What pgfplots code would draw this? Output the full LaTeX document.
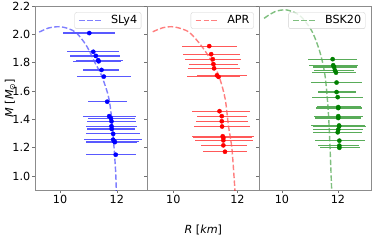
\documentclass[border=0pt]{standalone}
\usepackage{pgfplots}
\pgfplotsset{compat=1.18}
\usepackage{pgfplotstable}
\usepackage{fontspec}
\setmainfont{DejaVu Sans}
\definecolor{mblue}{RGB}{0,0,255}
\definecolor{mred}{RGB}{255,0,0}
\definecolor{mgreen}{RGB}{0,128,0}

\pgfplotstableread{
R M lo hi
11.03 2.009 10.12 11.93
11.17 1.877 10.23 12.08
11.26 1.848 10.35 12.11
11.34 1.818 10.56 12.20
11.36 1.810 10.45 12.15
11.46 1.749 10.82 12.08
11.54 1.702 10.61 12.48
11.66 1.525 10.99 12.34
11.73 1.423 10.80 12.69
11.79 1.409 10.99 12.63
11.81 1.387 10.96 12.67
11.81 1.352 10.91 12.71
11.82 1.333 10.96 12.63
11.87 1.298 10.91 12.83
11.87 1.257 10.84 12.90
11.91 1.245 10.99 12.78
11.93 1.240 10.91 12.71
11.96 1.151 10.91 12.69
}\slydata

\pgfplotstableread{
R M lo hi
11.12 1.917 10.26 11.98
11.18 1.860 10.31 12.08
11.23 1.825 10.37 12.11
11.25 1.790 10.50 12.03
11.27 1.760 10.47 12.08
11.36 1.711 10.73 12.29
11.41 1.700 10.42 12.08
11.44 1.458 10.57 12.40
11.51 1.423 10.73 12.31
11.51 1.387 10.71 12.34
11.52 1.350 10.65 12.40
11.54 1.281 10.57 12.50
11.56 1.270 10.61 12.45
11.56 1.252 10.68 12.48
11.56 1.217 10.86 12.29
11.61 1.172 10.92 12.31
}\aprdata

\pgfplotstableread{
R M lo hi
11.81 1.825 10.94 12.69
11.83 1.782 10.98 12.73
11.86 1.770 11.12 12.67
11.89 1.747 11.14 12.57
11.93 1.730 11.06 12.64
11.95 1.660 11.04 12.85
11.95 1.593 11.30 12.64
11.99 1.557 11.08 12.90
12.01 1.487 11.24 12.81
12.01 1.480 11.21 12.85
12.01 1.423 11.14 12.88
12.01 1.410 11.18 12.81
12.04 1.357 11.02 12.96
12.04 1.350 11.12 12.99
12.01 1.328 11.10 12.88
11.99 1.309 11.12 12.85
12.05 1.250 11.18 12.96
12.05 1.215 11.30 12.75
12.05 1.200 11.36 12.79
}\bskdata

\pgfplotsset{
  panel/.style={
    scale only axis, width=112pt, height=184.3pt, anchor=south west,
    ymin=0.9, ymax=2.2,
    ytick={1.0,1.2,...,2.2},
    xtick={10,12},
    xtick pos=bottom, ytick pos=left,
    tick align=outside,
    major tick length=3pt,
    tick style={black!55, line width=0.6pt},
    axis line style={black!45, line width=0.7pt},
    tick label style={font=\fontsize{11.2}{13}\selectfont, text=black},
    /pgf/number format/assume math mode=true,
    yticklabel style={/pgf/number format/fixed, /pgf/number format/fixed zerofill, /pgf/number format/precision=1, inner sep=1.5pt},
    xticklabel style={inner sep=2pt},
    legend style={at={(0.95,0.966)}, anchor=north east, draw=black!18, rounded corners=2pt,
      fill=white, fill opacity=0.8, text opacity=1, font=\fontsize{11.2}{13}\selectfont,
      inner xsep=2pt, inner ysep=1.2pt, row sep=0pt},
    legend image code/.code={\path (-2pt,0pt) (29pt,0pt); \draw[##1] (0pt,0pt) -- (23pt,0pt);},
    legend cell align=left,
    clip=true,
  },
  eos/.style={line width=1.4pt, opacity=0.5, dash pattern=on 5.5pt off 2.4pt, smooth, tension=0.5},
  pts/.style={only marks, mark=*, mark size=2.1pt, color=#1, mark options={fill=#1, draw=#1},
    error bars/x dir=both, error bars/x explicit,
    error bars/error bar style={draw=#1!65, line width=1.2pt},
    error bars/error mark=none},
}

\begin{document}
\begin{tikzpicture}
\useasboundingbox (0,0) rectangle (374pt,241pt);

\begin{axis}[panel, at={(35pt,50.7pt)}, xmin=9.12, xmax=13.06,
  ylabel={\fontsize{11.2}{13}\selectfont\textit{M} [\textit{M}\textsubscript{\char"2299}]},
  ylabel style={at={(axis description cs:-0.223,0.5)}, anchor=center, rotate=0}]
\addplot[eos, color=mblue] coordinates {
(9.27,2.016) (9.6,2.045) (9.98,2.054) (10.3,2.040) (10.58,2.010) (10.93,1.920)
(11.23,1.800) (11.46,1.710) (11.70,1.565) (11.81,1.420) (11.89,1.230) (11.96,1.020) (11.985,0.85)};
\addlegendentry{SLy4}
\addplot[pts=mblue, forget plot]
  table[x=R, y=M, x error plus expr=\thisrow{hi}-\thisrow{R}, x error minus expr=\thisrow{R}-\thisrow{lo}] {\slydata};
\end{axis}

\begin{axis}[panel, at={(147.3pt,50.7pt)}, xmin=9.19, xmax=12.68, yticklabels={},
  xlabel={\fontsize{11.2}{13}\selectfont\textit{R} [\textit{km}]},
  xlabel style={at={(axis description cs:0.5,-0.215)}, anchor=center}]
\addplot[eos, color=mred] coordinates {
(9.36,2.018) (9.65,2.045) (9.95,2.054) (10.25,2.040) (10.52,2.010) (10.89,1.915)
(11.25,1.790) (11.46,1.680) (11.62,1.540) (11.72,1.352) (11.83,1.186) (11.935,0.85)};
\addlegendentry{APR}
\addplot[pts=mred, forget plot]
  table[x=R, y=M, x error plus expr=\thisrow{hi}-\thisrow{R}, x error minus expr=\thisrow{R}-\thisrow{lo}] {\aprdata};
\end{axis}

\begin{axis}[panel, at={(259pt,50.7pt)}, xmin=9.18, xmax=13.18, yticklabels={}]
\addplot[eos, color=mgreen] coordinates {
(9.36,2.113) (9.75,2.160) (10.17,2.172) (10.64,2.132) (11.06,2.026) (11.36,1.872)
(11.54,1.706) (11.65,1.470) (11.71,1.234) (11.785,0.85)};
\addlegendentry{BSK20}
\addplot[pts=mgreen, forget plot]
  table[x=R, y=M, x error plus expr=\thisrow{hi}-\thisrow{R}, x error minus expr=\thisrow{R}-\thisrow{lo}] {\bskdata};
\end{axis}
\end{tikzpicture}
\end{document}
